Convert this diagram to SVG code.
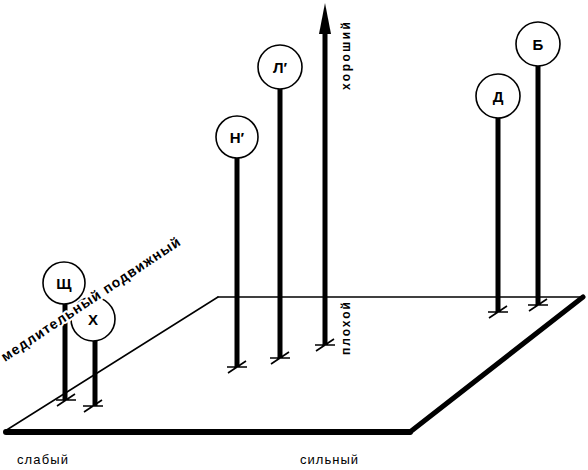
<svg xmlns="http://www.w3.org/2000/svg" xmlns:xlink="http://www.w3.org/1999/xlink" width="588" height="470" viewBox="0 0 588 470">
<style>
  .thin { stroke: #000; stroke-width: 1.5; fill: none; stroke-linecap: round; }
  .thick { stroke: #000; stroke-width: 5; fill: none; stroke-linecap: round; }
  .pole { stroke: #000; stroke-width: 5; fill: none; }
  .circ { stroke: #000; stroke-width: 1.6; fill: #fff; }
  .lbl { font-family: "Liberation Sans", "DejaVu Sans", sans-serif; font-size: 15px; font-weight: bold; fill: #000; text-anchor: middle; }
  .ax { font-family: "Liberation Sans", "DejaVu Sans", sans-serif; font-size: 13px; fill: #000; }
  .diag { font-family: "Liberation Sans", "DejaVu Sans", sans-serif; font-size: 14px; font-weight: bold; fill: #000; }
  .vax { font-family: "Liberation Sans", "DejaVu Sans", sans-serif; font-size: 12px; font-weight: bold; fill: #000; }
  .halo { stroke: #fff; stroke-width: 4; paint-order: stroke; stroke-linejoin: round; }
</style>
<defs>
  <path id="foot" d="M-10,0 H10 M-9,6 L9,-6" stroke="#000" stroke-width="1.6" fill="none"/>
</defs>
<rect width="588" height="470" fill="#fff"/>

<g id="plane">
  <line class="thin" x1="5" y1="431" x2="218" y2="297"/>
  <line class="thin" x1="218" y1="297" x2="583" y2="297"/>
  <line class="thick" x1="583" y1="297" x2="410" y2="432"/>
  <line x1="6" y1="432" x2="410" y2="432" stroke="#000" stroke-width="6" stroke-linecap="round"/>
</g>

<g id="connectors">
  <g id="axis-quality">
    <line class="pole" x1="325" y1="345" x2="325" y2="30"/>
    <polygon points="325,3 319,34 331,34" fill="#000"/>
    <use xlink:href="#foot" x="325" y="345"/>
  </g>
</g>

<g id="node-shch">
  <line class="pole" x1="65" y1="303" x2="65" y2="400"/>
  <use xlink:href="#foot" x="66" y="400"/>
  <circle class="circ" cx="64" cy="283" r="21"/>
  <text class="lbl" x="64" y="289">Щ</text>
</g>
<g id="node-kh">
  <line class="pole" x1="95" y1="340" x2="95" y2="406"/>
  <use xlink:href="#foot" x="93" y="406"/>
  <circle class="circ" cx="93" cy="319" r="22"/>
  <text class="lbl" x="93" y="325">Х</text>
</g>
<g id="node-n">
  <line class="pole" x1="237" y1="158" x2="237" y2="367"/>
  <use xlink:href="#foot" x="237" y="367"/>
  <circle class="circ" cx="237" cy="137" r="21"/>
  <text class="lbl" x="237" y="143">Н′</text>
</g>
<g id="node-l">
  <line class="pole" x1="280" y1="89" x2="280" y2="358"/>
  <use xlink:href="#foot" x="280" y="358"/>
  <circle class="circ" cx="280" cy="67" r="22"/>
  <text class="lbl" x="280" y="73">Л′</text>
</g>
<g id="node-d">
  <line class="pole" x1="498" y1="118" x2="498" y2="312"/>
  <use xlink:href="#foot" x="498" y="312"/>
  <circle class="circ" cx="498" cy="96" r="22"/>
  <text class="lbl" x="498" y="102">Д</text>
</g>
<g id="node-b">
  <line class="pole" x1="538" y1="66" x2="538" y2="305"/>
  <use xlink:href="#foot" x="538" y="305"/>
  <circle class="circ" cx="538" cy="44" r="22"/>
  <text class="lbl" x="538" y="50">Б</text>
</g>

<g id="labels">
  <text class="diag halo" transform="translate(5,362) rotate(-33.7)" textLength="212" lengthAdjust="spacing">медлительный подвижный</text>
  <text class="ax" x="17" y="464" textLength="51" lengthAdjust="spacing">слабый</text>
  <text class="ax" x="300" y="464" textLength="58" lengthAdjust="spacing">сильный</text>
  <text class="vax" transform="translate(350,90) rotate(-90)" textLength="68" lengthAdjust="spacing">хороший</text>
  <text class="vax" transform="translate(350,355) rotate(-90)" textLength="53" lengthAdjust="spacing">плохой</text>
</g>
</svg>
